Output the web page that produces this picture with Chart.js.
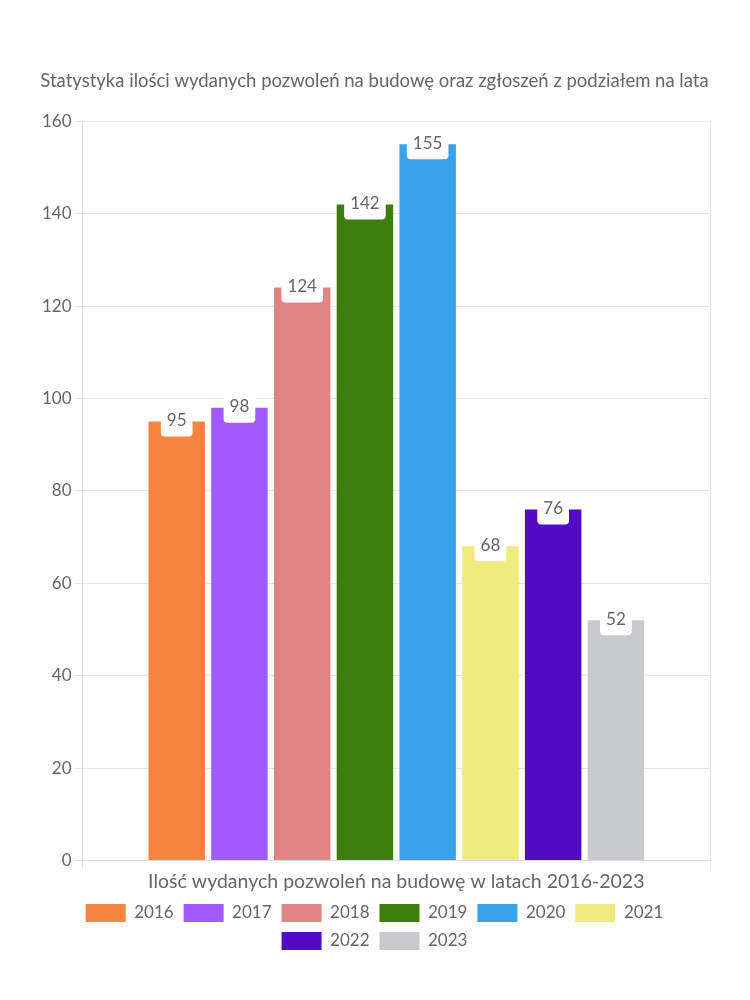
<!DOCTYPE html>
<html>
<head>
<meta charset="utf-8">
<script src="https://cdn.jsdelivr.net/npm/chart.js@4"></script>
<style>
  html, body { margin: 0; padding: 0; background: #fff; }
  #wrap { width: 750px; height: 1000px; }
</style>
</head>
<body>
<div id="wrap"><canvas id="pozwoleniaChart" width="750" height="1000"></canvas></div>
<script>
// dane: pozwolenia na budowę wg lat
const lata = ['2016', '2017', '2018', '2019', '2020', '2021', '2022', '2023'];
const ilosci = [95, 98, 124, 142, 155, 68, 76, 52];
const kategorie = ['Ilość wydanych pozwoleń na budowę w latach 2016-2023'];
const kolory = ['#F5843F', '#A05AFE', '#E08486', '#3F7D0D', '#38A2EB', '#F0EB7D', '#520BC4', '#C9CACE'];

const FONT = 'Lato, "Noto Sans", sans-serif';
Chart.defaults.font.family = FONT;
Chart.defaults.font.size = 16;
Chart.defaults.color = '#666';

// etykiety z wartością w białym prostokącie na szczycie słupka
const etykietyPlugin = {
  id: 'etykiety',
  afterDatasetsDraw(chart) {
    const ctx = chart.ctx;
    ctx.save();
    ctx.font = '17px ' + FONT;
    ctx.textAlign = 'center';
    ctx.textBaseline = 'middle';
    chart.data.datasets.forEach((ds, i) => {
      const meta = chart.getDatasetMeta(i);
      meta.data.forEach((bar, j) => {
        const txt = String(ds.data[j]);
        const w = ctx.measureText(txt).width + 12;
        const h = 32;
        const cx = bar.x, cy = bar.y - 1;
        ctx.fillStyle = '#fff';
        ctx.beginPath();
        ctx.roundRect(cx - w / 2, cy - h / 2, w, h, 4);
        ctx.fill();
        ctx.fillStyle = '#666';
        ctx.fillText(txt, cx, cy);
      });
    });
    ctx.restore();
  }
};

const datasets = lata.map((rok, i) => ({
  label: rok,
  data: [ilosci[i]],
  backgroundColor: kolory[i],
  borderWidth: 0
}));

new Chart(document.getElementById('pozwoleniaChart'), {
  type: 'bar',
  data: { labels: kategorie, datasets: datasets },
  options: {
    responsive: false,
    animation: false,
    layout: { padding: { left: 39, right: 40, top: 60, bottom: 40 } },
    plugins: {
      title: {
        display: true,
        text: 'Statystyka ilości wydanych pozwoleń na budowę oraz zgłoszeń z podziałem na lata',
        font: { size: 18.5, weight: 'normal' },
        color: '#666',
        padding: { top: 10, bottom: 29 }
      },
      legend: {
        position: 'bottom',
        labels: { boxWidth: 40, boxHeight: 18, font: { size: 17 } }
      },
      tooltip: { enabled: false }
    },
    scales: {
      x: {
        grid: { color: '#e5e5e5', tickLength: 8 },
        border: { color: '#ddd' },
        ticks: { color: '#666', font: { size: 19.5 }, padding: 1 }
      },
      y: {
        min: 0,
        max: 160,
        ticks: { stepSize: 20, color: '#666', font: { size: 17 } },
        grid: { color: '#e5e5e5', tickLength: 8 },
        border: { color: '#ddd' }
      }
    }
  },
  plugins: [etykietyPlugin]
});
</script>
</body>
</html>
